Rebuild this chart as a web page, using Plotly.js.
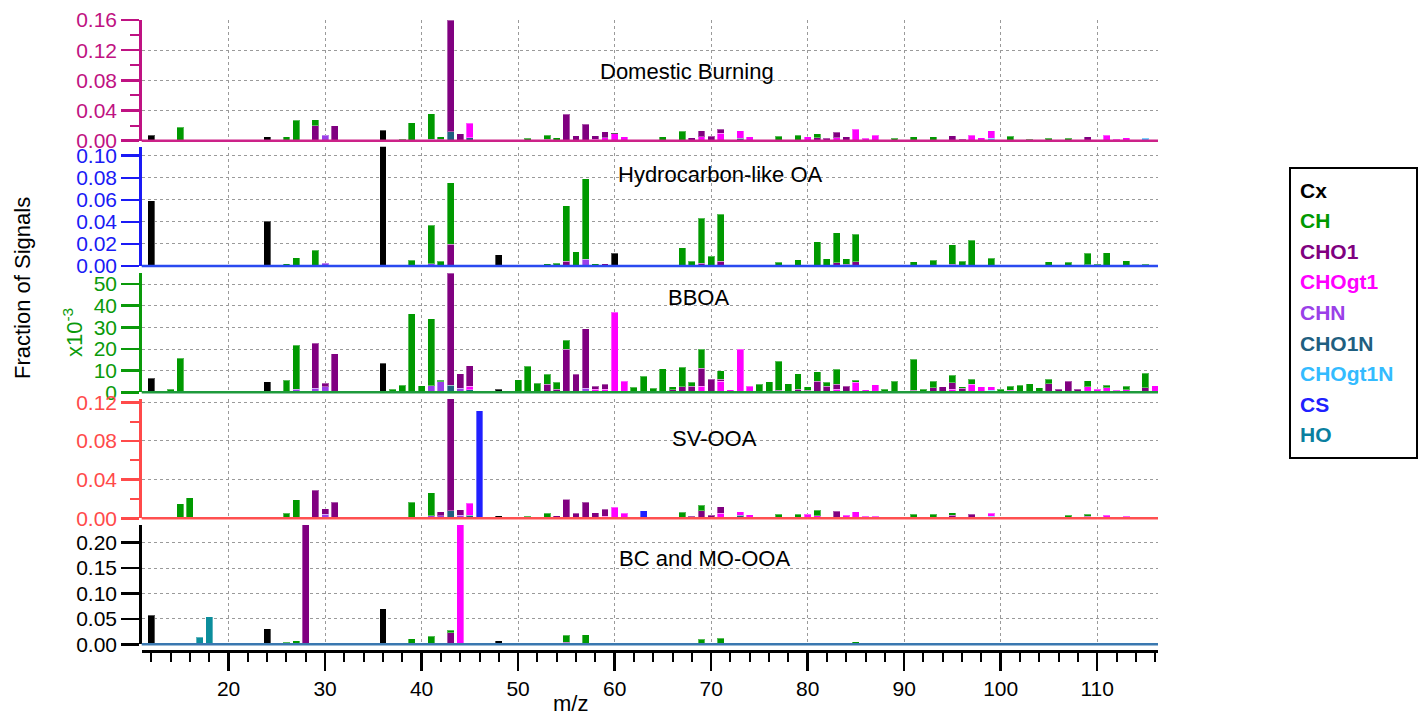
<!DOCTYPE html>
<html><head><meta charset="utf-8">
<script src="https://cdn.plot.ly/plotly-3.0.1.min.js"></script>
<style>html,body{margin:0;padding:0;background:#fff}#chart{width:1418px;height:716px}</style>
</head><body><div id="chart"></div>
<script>
// ---------- categories ----------
const stackOrder = ['CS','HO','CHOgt1N','CHO1N','CHN','CHOgt1','CHO1','CH','Cx']; // bottom -> top
const legendOrder = ['Cx','CH','CHO1','CHOgt1','CHN','CHO1N','CHOgt1N','CS','HO'];
const familyColors = {Cx:'#000000', CH:'#009900', CHO1:'#800080', CHOgt1:'#FF00FF', CHN:'#9A40E8',
  CHO1N:'#1F5F80', CHOgt1N:'#33BBFF', CS:'#2020FF', HO:'#0A7FA0'};
const panelNames = ['Domestic Burning','Hydrocarbon-like OA','BBOA','SV-OOA','BC and MO-OOA'];

// ---------- Domestic Burning (fraction of signal) ----------
const DB_Cx = {12:0.0075, 24:0.005, 36:0.014, 48:0.0012, 60:0.0008};
const DB_CH = {15:0.018, 26:0.0055, 27:0.027, 29:0.0075, 38:0.002, 39:0.024, 40:0.001, 41:0.034, 42:0.003,
  50:0.001, 51:0.0035, 52:0.001, 53:0.0055, 54:0.004, 65:0.005, 67:0.0124, 77:0.006, 79:0.007, 81:0.005,
  89:0.0035, 91:0.005, 93:0.005, 101:0.006, 103:0.002, 105:0.003, 107:0.003};
const DB_CHO1 = {29:0.020, 31:0.020, 42:0.002, 43:0.148, 44:0.009, 53:0.002, 55:0.035, 56:0.0067, 57:0.0218,
  58:0.0047, 59:0.008, 68:0.004, 69:0.008, 70:0.0058, 71:0.0055, 81:0.004, 82:0.0035, 83:0.0075, 84:0.005,
  95:0.0067, 96:0.002, 109:0.005};
const DB_CHOgt1 = {45:0.019, 58:0.002, 59:0.004, 60:0.0089, 61:0.0053, 69:0.005, 71:0.010, 73:0.010, 74:0.005,
  80:0.005, 83:0.004, 85:0.0155, 86:0.0035, 87:0.007, 97:0.0075, 98:0.004, 99:0.010, 111:0.0075, 112:0.002, 113:0.004};
const DB_CHN = {30:0.0075, 41:0.002};
const DB_CHO1N = {43:0.012, 45:0.004, 73:0.003};
const DB_CHOgt1N = {99:0.003, 115:0.003};

// ---------- Hydrocarbon-like OA ----------
const HOA_Cx = {12:0.059, 24:0.0408, 36:0.112, 48:0.010, 60:0.0115};
const HOA_CH = {26:0.002, 27:0.0073, 29:0.0145, 39:0.005, 41:0.035, 42:0.0045, 43:0.056, 53:0.002, 54:0.0027,
  55:0.050, 56:0.013, 57:0.073, 58:0.002, 65:0.001, 67:0.0166, 68:0.0045, 69:0.041, 70:0.009, 71:0.0425,
  77:0.0033, 79:0.0057, 81:0.022, 82:0.0066, 83:0.027, 84:0.005, 85:0.025, 91:0.004, 93:0.005, 95:0.0178,
  96:0.0045, 97:0.0235, 99:0.007, 105:0.004, 107:0.0033, 109:0.0105, 110:0.0015, 111:0.012, 113:0.0048, 115:0.0015};
const HOA_CHO1 = {43:0.0196, 55:0.0045, 59:0.002, 69:0.0024, 71:0.0045, 83:0.003, 84:0.0015, 85:0.004,
  87:0.001, 95:0.0015, 109:0.001};
const HOA_CHN = {30:0.0027, 41:0.002, 45:0.0008, 57:0.0063};

// ---------- BBOA (values x10^-3) ----------
const BBOA_Cx = {12:6.6, 24:4.9, 36:13.4, 48:1.4};
const BBOA_CH = {14:1.4, 15:15.7, 26:5.5, 27:20.3, 37:1.4, 38:3.2, 39:36.3, 40:3.1, 41:31, 42:0.7, 50:5.7,
  51:12, 52:4.2, 53:4.6, 54:3.1, 55:4, 62:2.3, 63:7.4, 64:1.8, 65:10.8, 66:1.4, 67:9, 68:1.7, 69:9, 71:3.9,
  75:3.7, 76:4.8, 77:13.3, 78:4, 79:7, 80:1.5, 81:4.2, 82:1.7, 83:6.8, 85:0.9, 88:1.4, 89:5.1, 91:14.3,
  92:1, 93:3.1, 95:3.5, 96:0.7, 97:2.2, 100:1.4, 101:1.9, 102:3.2, 103:4, 104:2, 105:2, 109:2.9, 111:1.2,
  113:1.7, 115:6.9};
const BBOA_CHO1 = {29:20.8, 30:1.7, 31:17.7, 43:51.8, 44:6.8, 45:9.4, 53:3.7, 54:1.5, 55:20, 56:8.3, 57:27.6,
  58:1.5, 59:2.2, 66:1.1, 67:2.5, 68:2.9, 69:8.2, 70:6.1, 71:1.0, 77:1, 79:1.5, 80:1, 81:5.2, 82:2.9, 83:2.3,
  84:2.9, 91:0.9, 92:0.5, 93:2, 94:2.5, 95:2.8, 96:1.8, 105:4, 106:1.5, 107:5.1, 108:1.5, 115:2};
const BBOA_CHOgt1 = {45:1.7, 58:1.4, 59:1.5, 60:36.9, 61:5.1, 69:2.8, 71:5.1, 72:1.1, 73:20, 74:2.9, 83:1.5,
  85:4.6, 86:1.1, 87:3.4, 95:1.5, 97:3.8, 98:2.6, 99:1.6, 101:1, 109:2.5, 110:1.5, 111:2, 112:1, 113:1.2, 116:3.1};
const BBOA_CHN = {27:1.5, 29:1.8, 30:2.5, 41:3, 42:4.8, 44:1.8, 57:1.8};
const BBOA_CHO1N = {13:0.6, 43:3.2, 45:1.1};
const BBOA_CHOgt1N = {99:0.9};

// ---------- SV-OOA ----------
const SV_Cx = {48:0.0028};
const SV_CH = {15:0.0148, 16:0.0214, 26:0.005, 27:0.019, 37:0.001, 39:0.0166, 41:0.0242, 51:0.002, 53:0.004,
  55:0.0005, 65:0.0015, 67:0.0063, 69:0.006, 77:0.004, 79:0.004, 81:0.006, 91:0.004, 93:0.004, 95:0.003,
  107:0.003, 109:0.002};
const SV_CHO1 = {29:0.029, 30:0.006, 31:0.0166, 42:0.0045, 43:0.116, 44:0.0056, 53:0.001, 54:0.0024, 55:0.0195,
  56:0.005, 57:0.0167, 58:0.005, 59:0.0074, 68:0.002, 69:0.0077, 70:0.003, 71:0.007, 82:0.0017, 83:0.0073,
  95:0.003, 97:0.004, 109:0.002};
const SV_CHOgt1 = {45:0.012, 58:0.001, 59:0.002, 60:0.0115, 61:0.005, 71:0.005, 73:0.004, 74:0.0035, 80:0.004,
  81:0.0024, 84:0.003, 85:0.0066, 86:0.002, 87:0.002, 98:0.0015, 99:0.003, 111:0.003, 113:0.002};
const SV_CHN = {30:0.004, 41:0.0024, 42:0.0024, 44:0.003};
const SV_CHO1N = {43:0.008, 45:0.0034, 73:0.003};
const SV_CHOgt1N = {99:0.002, 115:0.001};
const SV_CS = {46:0.111, 63:0.008};

// ---------- BC and MO-OOA ----------
const BC_Cx = {12:0.057, 24:0.031, 36:0.070, 48:0.007, 60:0.003};
const BC_CH = {26:0.004, 27:0.0066, 39:0.0105, 41:0.0157, 43:0.0045, 55:0.014, 57:0.019, 69:0.0097, 71:0.0123,
  81:0.003, 83:0.003, 85:0.005, 95:0.003};
const BC_CHO1 = {28:0.24, 31:0.002, 43:0.023, 55:0.004};
const BC_CHOgt1 = {44:0.24, 68:0.002};
const BC_HO = {17:0.0138, 18:0.0538};

// ---------- axis ticks ----------
const yTickVals = [[0,0.04,0.08,0.12,0.16],[0,0.02,0.04,0.06,0.08,0.10],[0,10,20,30,40,50],[0,0.04,0.08,0.12],[0,0.05,0.10,0.15,0.20]];
const yRanges = [[0,0.16],[0,0.1082],[0,55.1],[0,0.1234],[0,0.2348]];
const xTickVals = [20,30,40,50,60,70,80,90,100,110];

const panels = [
  {Cx:DB_Cx, CH:DB_CH, CHO1:DB_CHO1, CHOgt1:DB_CHOgt1, CHN:DB_CHN, CHO1N:DB_CHO1N, CHOgt1N:DB_CHOgt1N},
  {Cx:HOA_Cx, CH:HOA_CH, CHO1:HOA_CHO1, CHN:HOA_CHN},
  {Cx:BBOA_Cx, CH:BBOA_CH, CHO1:BBOA_CHO1, CHOgt1:BBOA_CHOgt1, CHN:BBOA_CHN, CHO1N:BBOA_CHO1N, CHOgt1N:BBOA_CHOgt1N},
  {Cx:SV_Cx, CH:SV_CH, CHO1:SV_CHO1, CHOgt1:SV_CHOgt1, CHN:SV_CHN, CHO1N:SV_CHO1N, CHOgt1N:SV_CHOgt1N, CS:SV_CS},
  {Cx:BC_Cx, CH:BC_CH, CHO1:BC_CHO1, CHOgt1:BC_CHOgt1, HO:BC_HO}
];

// ---------- styling / geometry ----------
const W = 1418, H = 716;
const px = v => v / W, py = v => 1 - v / H;
const axisColors = ['#BF1282','#1A1AF5','#0A9A0A','#FF4A4A','#000000'];
const baseColors = ['#CC2288','#2A4AF0','#1E9A3C','#FF5050','#3A78B0'];
const panelPix = [[20,140.7],[146.7,266],[273,392.3],[399,518.3],[525,644.3]];
const FONT = 'Liberation Sans, Arial, sans-serif';
const barColors = Object.assign({}, familyColors, {HO:'#0C8E9C'});

const traces = [];
panels.forEach((p, i) => {
  const yref = i === 0 ? 'y' : 'y' + (i + 1);
  stackOrder.forEach(f => {
    if (!p[f]) return;
    const xs = Object.keys(p[f]).map(Number);
    const ys = xs.map(k => p[f][k]);
    traces.push({type:'bar', x:xs, y:ys, xaxis:'x', yaxis:yref, name:f, width:0.72,
      marker:{color:barColors[f], line:{color:'rgba(255,255,255,0.35)', width:1}},
      showlegend:false, hoverinfo:'x+y+name'});
  });
});

const layout = {
  width:W, height:H, margin:{l:0,r:0,t:0,b:0}, paper_bgcolor:'#fff', plot_bgcolor:'rgba(0,0,0,0)',
  barmode:'stack', bargap:0, showlegend:false, font:{family:FONT, size:21, color:'#000'},
  xaxis:{domain:[px(141.7), px(1158)], range:[11.0,116.3], anchor:'free', position:py(651),
    showline:true, linecolor:'#000', linewidth:3, ticks:'outside', ticklen:18, tickwidth:2.5, tickcolor:'#000',
    tickvals:xTickVals, ticktext:xTickVals.map(String), tickfont:{size:21, family:FONT},
    minor:{dtick:2, tick0:0, ticks:'outside', ticklen:9, tickwidth:2, tickcolor:'#000', showgrid:false},
    showgrid:true, gridcolor:'#9a9a9a', griddash:'dot', gridwidth:1, zeroline:false, fixedrange:true}
};
panelPix.forEach((pp, i) => {
  const key = i === 0 ? 'yaxis' : 'yaxis' + (i + 1);
  const col = axisColors[i];
  const tv = yTickVals[i];
  const ax = {domain:[py(pp[1]), py(pp[0])], range:yRanges[i], anchor:'x',
    showline:true, linecolor:col, linewidth:2.5, ticks:'outside', ticklen:18, tickwidth:2.5, tickcolor:col,
    tickvals:tv, ticktext: i === 2 ? tv.map(String) : tv.map(v => v.toFixed(2)),
    tickfont:{size:21, color:col, family:FONT},
    showgrid:true, gridcolor:'#9a9a9a', griddash:'dot', gridwidth:1, zeroline:false, fixedrange:true};
  if (i === 0 || i === 3) {
    ax.minor = {dtick:0.02, ticks:'outside', ticklen:9, tickwidth:2, tickcolor:col, showgrid:false};
  }
  layout[key] = ax;
});

const shapes = [];
panelPix.forEach((pp, i) => {
  shapes.push({type:'line', xref:'paper', yref:'paper', x0:px(141.7), x1:px(1158), y0:py(pp[1]), y1:py(pp[1]),
    line:{color:baseColors[i], width:2.5}});
});
shapes.push({type:'rect', xref:'paper', yref:'paper', x0:px(1290), x1:px(1417), y0:py(458), y1:py(168),
  line:{color:'#000', width:2}, fillcolor:'rgba(0,0,0,0)'});
layout.shapes = shapes;

const ann = [];
const labelPos = [[687,71],[720,175],[698,298],[714,438],[704,558]];
panelNames.forEach((t, i) => ann.push({text:t, xref:'paper', yref:'paper', x:px(labelPos[i][0]), y:py(labelPos[i][1]),
  xanchor:'center', yanchor:'middle', showarrow:false, font:{size:22, color:'#000', family:FONT}}));
ann.push({text:'Fraction of Signals', xref:'paper', yref:'paper', x:px(22), y:py(288), textangle:-90,
  xanchor:'center', yanchor:'middle', showarrow:false, font:{size:22, color:'#000', family:FONT}});
ann.push({text:'x10<sup>-3</sup>', xref:'paper', yref:'paper', x:px(73), y:py(333), textangle:-90,
  xanchor:'center', yanchor:'middle', showarrow:false, font:{size:22, color:axisColors[2], family:FONT}});
ann.push({text:'m/z', xref:'paper', yref:'paper', x:px(570), y:py(703), xanchor:'center', yanchor:'middle',
  showarrow:false, font:{size:22, color:'#000', family:FONT}});
legendOrder.forEach((f, k) => ann.push({text:'<b>' + f + '</b>', xref:'paper', yref:'paper', x:px(1298), y:py(190 + k * 30.6),
  xanchor:'left', yanchor:'middle', showarrow:false, font:{size:21, color:familyColors[f], family:FONT}}));
layout.annotations = ann;

Plotly.newPlot('chart', traces, layout, {staticPlot:true, displayModeBar:false});
</script></body></html>
